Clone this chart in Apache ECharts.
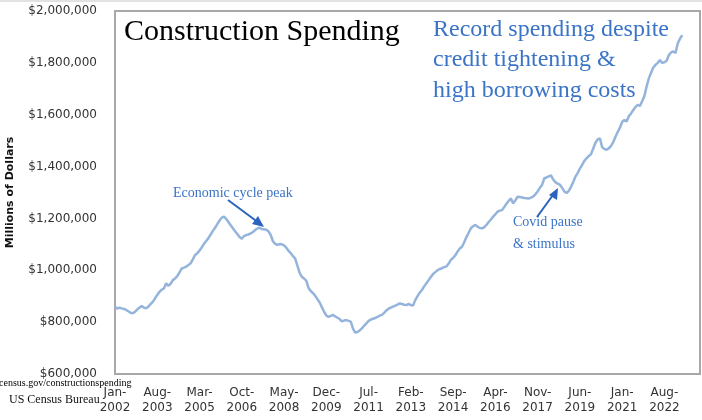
<!DOCTYPE html>
<html>
<head>
<meta charset="utf-8">
<title>Construction Spending</title>
<script src="https://cdn.jsdelivr.net/npm/echarts@6/dist/echarts.min.js"></script>
<style>
  html, body { margin: 0; padding: 0; background: #fff; }
  #chart { width: 702px; height: 420px; }
</style>
</head>
<body>
<div id="chart"></div>
<script>
// Total construction spending, millions of dollars (SAAR), monthly from Jan-2002
var spend2002 = [860000, 852000, 856000, 853000, 851000, 847000, 842000, 836000, 834000, 840000, 849000, 856000];
var spend2003 = [862000, 856000, 853000, 860000, 870000, 878000, 892000, 905000, 917000, 925000, 930000, 950000];
var spend2004 = [940000, 948000, 962000, 968000, 978000, 992000, 1007000, 1010000, 1014000, 1020000, 1027000, 1042000];
var spend2005 = [1059000, 1066000, 1076000, 1088000, 1102000, 1113000, 1124000, 1138000, 1152000, 1164000, 1178000, 1192000];
var spend2006 = [1203000, 1207000, 1198000, 1186000, 1174000, 1162000, 1150000, 1140000, 1128000, 1122000, 1132000, 1136000];
var spend2007 = [1138000, 1142000, 1148000, 1155000, 1161000, 1164000, 1159000, 1158000, 1156000, 1150000, 1136000, 1112000];
var spend2008 = [1102000, 1098000, 1101000, 1100000, 1096000, 1087000, 1075000, 1066000, 1055000, 1045000, 1018000, 990000];
var spend2009 = [975000, 968000, 960000, 932000, 920000, 912000, 902000, 889000, 876000, 858000, 840000, 826000];
var spend2010 = [820000, 824000, 828000, 822000, 817000, 812000, 803000, 806000, 808000, 805000, 802000, 775000];
var spend2011 = [760000, 762000, 768000, 776000, 786000, 795000, 805000, 810000, 813000, 816000, 820000, 825000];
var spend2012 = [828000, 836000, 845000, 852000, 856000, 860000, 864000, 868000, 872000, 870000, 867000, 866000];
var spend2013 = [870000, 866000, 864000, 885000, 900000, 914000, 924000, 938000, 950000, 962000, 974000, 986000];
var spend2014 = [993000, 1000000, 1005000, 1008000, 1012000, 1015000, 1026000, 1040000, 1048000, 1058000, 1072000, 1084000];
var spend2015 = [1091000, 1108000, 1128000, 1145000, 1162000, 1170000, 1175000, 1168000, 1163000, 1162000, 1166000, 1175000];
var spend2016 = [1186000, 1196000, 1207000, 1216000, 1226000, 1230000, 1232000, 1244000, 1257000, 1268000, 1277000, 1258000];
var spend2017 = [1270000, 1284000, 1283000, 1281000, 1279000, 1278000, 1277000, 1280000, 1284000, 1293000, 1304000, 1318000];
var spend2018 = [1329000, 1355000, 1358000, 1362000, 1366000, 1350000, 1340000, 1334000, 1330000, 1318000, 1304000, 1298000];
var spend2019 = [1306000, 1322000, 1340000, 1361000, 1375000, 1392000, 1406000, 1422000, 1432000, 1440000, 1448000, 1470000];
var spend2020 = [1492000, 1505000, 1509000, 1475000, 1468000, 1465000, 1470000, 1480000, 1494000, 1515000, 1533000, 1550000];
var spend2021 = [1572000, 1580000, 1574000, 1594000, 1605000, 1618000, 1630000, 1638000, 1634000, 1652000, 1672000, 1709000];
var spend2022 = [1740000, 1762000, 1782000, 1792000, 1800000, 1811000, 1800000, 1802000, 1808000, 1830000, 1840000, 1844000];
var spend2023 = [1838000, 1875000, 1893000, 1907000];

var spending = [].concat(
  spend2002, spend2003, spend2004, spend2005, spend2006, spend2007, spend2008,
  spend2009, spend2010, spend2011, spend2012, spend2013, spend2014, spend2015,
  spend2016, spend2017, spend2018, spend2019, spend2020, spend2021, spend2022,
  spend2023
);

var monthNames = ['Jan', 'Feb', 'Mar', 'Apr', 'May', 'Jun', 'Jul', 'Aug', 'Sep', 'Oct', 'Nov', 'Dec'];
var firstYear = 2002;
var lastYear = 2023;

var months = [];
for (var y = firstYear; y <= lastYear; y++) {
  for (var m = 0; m < 12; m++) {
    months.push(monthNames[m] + '-\n' + y);
  }
}

var blue = '#3a74c6';
var serif = '"Liberation Serif", "Times New Roman", serif';
var sans = '"DejaVu Sans", Verdana, sans-serif';

var chartDom = document.getElementById('chart');
var myChart = echarts.init(chartDom);

myChart.setOption({
  animation: false,
  backgroundColor: '#fff',
  grid: {
    left: 115,
    right: 2,
    top: 11,
    bottom: 46,
    outerBoundsMode: 'none',
    containLabel: false,
    show: true,
    borderColor: '#a8a8a8',
    borderWidth: 2
  },
  xAxis: {
    type: 'category',
    data: months,
    boundaryGap: false,
    axisLine: { show: false },
    axisTick: { show: false },
    splitLine: { show: false },
    axisLabel: {
      interval: 18,
      margin: 11,
      color: '#333',
      fontFamily: sans,
      fontSize: 12,
      lineHeight: 15
    }
  },
  yAxis: {
    type: 'value',
    min: 600000,
    max: 2000000,
    interval: 200000,
    name: 'Millions of Dollars',
    nameLocation: 'middle',
    nameGap: 99,
    nameTextStyle: {
      fontFamily: sans,
      fontSize: 11,
      fontWeight: 'bold',
      color: '#111'
    },
    axisLine: { show: false },
    axisTick: { show: false },
    splitLine: { show: false },
    axisLabel: {
      margin: 18,
      color: '#333',
      fontFamily: sans,
      fontSize: 12,
      formatter: function (v) {
        return '$' + v.toLocaleString('en-US');
      }
    }
  },
  series: [{
    type: 'line',
    data: spending,
    showSymbol: false,
    smooth: false,
    lineStyle: { color: '#95b4db', width: 2.5 },
    itemStyle: { color: '#95b4db' }
  }],
  graphic: [
    { type: 'rect', shape: { x: 0, y: 0, width: 702, height: 2 }, style: { fill: '#e2e2e2' } },
    {
      type: 'text',
      style: { x: 124, y: 32, text: 'Construction Spending', font: '30px ' + serif, fill: '#000', textVerticalAlign: 'middle' }
    },
    {
      type: 'text',
      style: {
        x: 433, y: 60,
        text: 'Record spending despite\ncredit tightening &\nhigh borrowing costs',
        font: '24px ' + serif, fill: blue, lineHeight: 30.5, textVerticalAlign: 'middle'
      }
    },
    {
      type: 'text',
      style: { x: 173, y: 193, text: 'Economic cycle peak', font: '14px ' + serif, fill: blue, textVerticalAlign: 'middle' }
    },
    {
      type: 'text',
      style: { x: 513, y: 233, text: 'Covid pause\n& stimulus', font: '14px ' + serif, fill: blue, lineHeight: 22, textVerticalAlign: 'middle' }
    },
    { type: 'line', shape: { x1: 228, y1: 200, x2: 257, y2: 221.5 }, style: { stroke: '#2a64be', lineWidth: 2 } },
    { type: 'polygon', shape: { points: [[264, 227], [252, 224], [258, 216]] }, style: { fill: '#2a64be' } },
    { type: 'line', shape: { x1: 537, y1: 217, x2: 553, y2: 195 }, style: { stroke: '#2a64be', lineWidth: 2 } },
    { type: 'polygon', shape: { points: [[558, 188], [549, 195], [557, 200]] }, style: { fill: '#2a64be' } },
    {
      type: 'text',
      style: { x: -1, y: 383, text: 'census.gov/constructionspending', font: '10px ' + serif, fill: '#000', textVerticalAlign: 'middle' }
    },
    {
      type: 'text',
      style: { x: 9, y: 400, text: 'US Census Bureau', font: '12px ' + serif, fill: '#111', textVerticalAlign: 'middle' }
    }
  ]
});
</script>
</body>
</html>
